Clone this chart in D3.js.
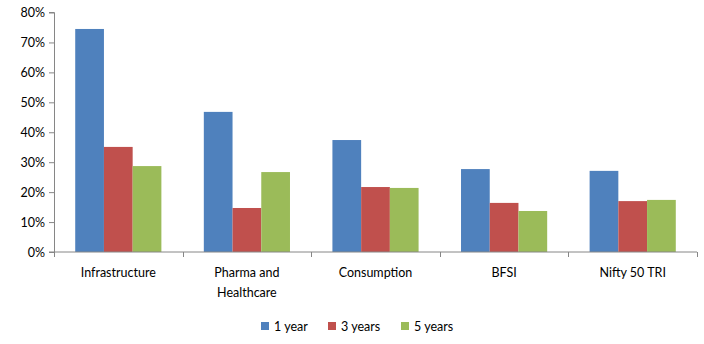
<!DOCTYPE html>
<html>
<head>
<meta charset="utf-8">
<script src="https://cdn.jsdelivr.net/npm/d3@7"></script>
<style>
  body { margin: 0; background: #fff; }
  svg text { font-family: Lato, "Open Sans", sans-serif; fill: #000; }
</style>
</head>
<body>
<svg id="chart" width="704" height="344"></svg>
<script>
var categories = [ 'Infrastructure', 'Pharma and|Healthcare', 'Consumption', 'BFSI', 'Nifty 50 TRI' ];
var seriesNames = [ '1 year', '3 years', '5 years' ];
var oneYear = [ 74.5, 46.8, 37.4, 27.7, 27.1 ];
var threeYears = [ 35.1, 14.7, 21.7, 16.4, 17.0 ];
var fiveYears = [ 28.7, 26.7, 21.4, 13.7, 17.4 ];
var yTicks = [ 0, 10, 20, 30, 40, 50, 60, 70, 80 ];
var colors = [ '#4F81BD', '#C0504D', '#9BBB59' ];

var series = [ oneYear, threeYears, fiveYears ];
var margin = { top: 12.5, left: 54, right: 7, bottom: 92 };
var width = 704 - margin.left - margin.right;
var height = 344 - margin.top - margin.bottom;

var svg = d3.select( '#chart' );
var g = svg.append( 'g' ).attr( 'transform', 'translate(' + margin.left + ',' + margin.top + ')' );

var x = d3.scaleBand().domain( d3.range( categories.length ) ).range( [ 0, width ] )
	.paddingInner( 0.33 ).paddingOuter( 0.165 );
var xs = d3.scaleBand().domain( d3.range( series.length ) ).range( [ 0, x.bandwidth() ] );
var y = d3.scaleLinear().domain( [ 0, 80 ] ).range( [ height, 0 ] );

// bars
series.forEach( function ( vals, si ) {
	g.selectAll( 'rect.s' + si )
		.data( vals )
		.enter()
		.append( 'rect' )
		.attr( 'x', function ( d, i ) { return x( i ) + xs( si ); } )
		.attr( 'y', function ( d ) { return y( d ); } )
		.attr( 'width', xs.bandwidth() )
		.attr( 'height', function ( d ) { return height - y( d ); } )
		.attr( 'fill', colors[si] );
} );

// y axis
var yAxis = d3.axisLeft( y ).tickValues( yTicks ).tickSize( 5 ).tickPadding( 4 )
	.tickFormat( function ( d ) { return d + '%'; } );
var ya = g.append( 'g' ).call( yAxis );
ya.selectAll( 'line, path' ).attr( 'stroke', '#868686' );
ya.select( 'path' ).attr( 'd', 'M-5,' + height + 'H0.5V0H-5' );
ya.selectAll( 'text' ).style( 'font-size', '12.5px' );

// x axis
var step = width / categories.length;
var xa = g.append( 'g' ).attr( 'transform', 'translate(0,' + height + ')' );
xa.append( 'line' ).attr( 'x1', 0 ).attr( 'x2', width ).attr( 'stroke', '#868686' );
xa.selectAll( 'line.tick' )
	.data( d3.range( categories.length + 1 ) )
	.enter()
	.append( 'line' )
	.attr( 'x1', function ( d ) { return Math.round( d * step ) + 0.5; } )
	.attr( 'x2', function ( d ) { return Math.round( d * step ) + 0.5; } )
	.attr( 'y1', 0 ).attr( 'y2', 5 )
	.attr( 'stroke', '#868686' );
xa.selectAll( 'text' )
	.data( categories )
	.enter()
	.append( 'text' )
	.attr( 'text-anchor', 'middle' )
	.style( 'font-size', '12.5px' )
	.attr( 'transform', function ( d, i ) { return 'translate(' + ( x( i ) + x.bandwidth() / 2 ) + ',25)'; } )
	.each( function ( d ) {
		var t = d3.select( this );
		d.split( '|' ).forEach( function ( line, li ) {
			t.append( 'tspan' ).attr( 'x', 0 ).attr( 'y', li * 19.5 ).text( line );
		} );
	} );

// legend
var legendX = [ 261, 328, 401 ];
var legend = svg.append( 'g' );
seriesNames.forEach( function ( name, i ) {
	legend.append( 'rect' ).attr( 'x', legendX[i] ).attr( 'y', 322 )
		.attr( 'width', 8 ).attr( 'height', 8 ).attr( 'fill', colors[i] );
	legend.append( 'text' ).attr( 'x', legendX[i] + 13 ).attr( 'y', 331 )
		.style( 'font-size', '12.5px' ).text( name );
} );
</script>
</body>
</html>
